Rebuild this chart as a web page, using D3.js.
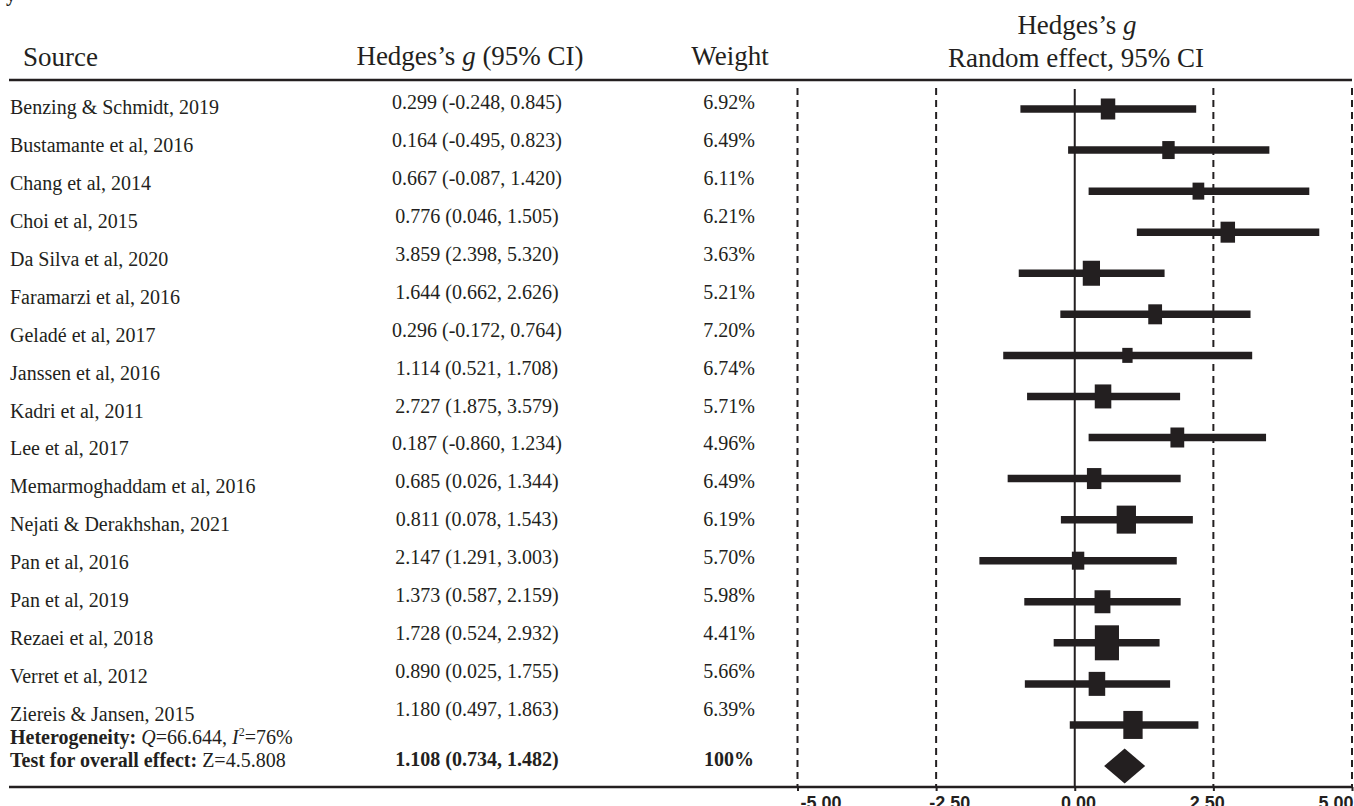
<!DOCTYPE html>
<html>
<head>
<meta charset="utf-8">
<script src="https://cdn.jsdelivr.net/npm/d3@7"></script>
<style>
  body { margin: 0; background: #fff; }
  svg { display: block; }
</style>
</head>
<body>
<svg id="chart"></svg>
<script>
const width = 1354, height = 806;
const ink = "#231f20";

// table columns
const sources = ["Benzing & Schmidt, 2019", "Bustamante et al, 2016", "Chang et al, 2014", "Choi et al, 2015",
  "Da Silva et al, 2020", "Faramarzi et al, 2016", "Geladé et al, 2017", "Janssen et al, 2016", "Kadri et al, 2011",
  "Lee et al, 2017", "Memarmoghaddam et al, 2016", "Nejati & Derakhshan, 2021", "Pan et al, 2016", "Pan et al, 2019",
  "Rezaei et al, 2018", "Verret et al, 2012", "Ziereis & Jansen, 2015"];
const hedgesG = [0.299, 0.164, 0.667, 0.776, 3.859, 1.644, 0.296, 1.114, 2.727, 0.187, 0.685, 0.811, 2.147, 1.373, 1.728, 0.890, 1.180];
const ciLower = [-0.248, -0.495, -0.087, 0.046, 2.398, 0.662, -0.172, 0.521, 1.875, -0.860, 0.026, 0.078, 1.291, 0.587, 0.524, 0.025, 0.497];
const ciUpper = [0.845, 0.823, 1.420, 1.505, 5.320, 2.626, 0.764, 1.708, 3.579, 1.234, 1.344, 1.543, 3.003, 2.159, 2.932, 1.755, 1.863];
const weights = [6.92, 6.49, 6.11, 6.21, 3.63, 5.21, 7.20, 6.74, 5.71, 4.96, 6.49, 6.19, 5.70, 5.98, 4.41, 5.66, 6.39];
const pooled = [1.108, 0.734, 1.482];

// markers as drawn in the figure (16 rows, then the pooled diamond)
const markMid = [0.60, 1.69, 2.23, 2.76, 0.30, 1.45, 0.95, 0.51, 1.85, 0.35, 0.93, 0.06, 0.50, 0.58, 0.40, 1.05];
const markLo = [-0.98, -0.12, 0.25, 1.12, -1.01, -0.26, -1.29, -0.86, 0.25, -1.21, -0.25, -1.72, -0.91, -0.38, -0.90, -0.09];
const markHi = [2.19, 3.51, 4.23, 4.41, 1.62, 3.17, 3.20, 1.90, 3.45, 1.91, 2.13, 1.84, 1.91, 1.53, 1.72, 2.23];
const markBox = [2.1, 1.8, 1.7, 2.1, 2.5, 2.0, 1.5, 2.4, 2.0, 2.1, 2.8, 1.8, 2.3, 3.5, 2.4, 2.8];
const diamond = [0.90, 0.53, 1.27];
const tickValues = [-5, -2.5, 0, 2.5, 5];

const fmt3 = v => d3.format(".3f")(v).replace("−", "-");
const fmtW = v => d3.format(".2f")(v) + "%";

const svg = d3.select("#chart").attr("width", width).attr("height", height)
  .style("font-family", "'Liberation Serif', 'Times New Roman', serif")
  .style("fill", ink);

const x = d3.scaleLinear().domain([-5, 5]).range([797.5, 1352]);
const xLabel = d3.scaleLinear().domain([-5, 5]).range([821, 1336]);
const yMark = d3.scaleLinear().domain([0, 16]).range([109, 766]);
const yText = d3.scaleLinear().domain([0, 16]).range([114, 721]);
const boxH = d3.scaleLinear().domain([0, 1]).range([0, 10]);

// clipped glyph at the corner
svg.append("text").attr("x", 6).attr("y", 1).style("font-weight", "bold").style("font-size", "20px").text("y");

// headers
const head = svg.append("g").style("font-size", "27px");
head.append("text").attr("x", 23).attr("y", 66).text("Source");
const h2 = head.append("text").attr("x", 470).attr("y", 65).attr("text-anchor", "middle");
h2.append("tspan").text("Hedges’s ");
h2.append("tspan").style("font-style", "italic").text("g");
h2.append("tspan").text(" (95% CI)");
head.append("text").attr("x", 730).attr("y", 65).attr("text-anchor", "middle").text("Weight");
const h3 = head.append("text").attr("x", 1077).attr("y", 34).attr("text-anchor", "middle");
h3.append("tspan").text("Hedges’s ");
h3.append("tspan").style("font-style", "italic").text("g");
head.append("text").attr("x", 1076).attr("y", 67).attr("text-anchor", "middle").text("Random effect, 95% CI");

// rules
svg.append("line").attr("x1", 9).attr("x2", 1352).attr("y1", 80).attr("y2", 80)
  .attr("stroke", ink).attr("stroke-width", 2.5);
svg.append("line").attr("x1", 9).attr("x2", 1352).attr("y1", 787).attr("y2", 787)
  .attr("stroke", ink).attr("stroke-width", 2.5);

// table rows
const rows = svg.append("g").style("font-size", "20px");
rows.selectAll(".src").data(sources).join("text")
  .attr("x", 10).attr("y", (d, i) => yText(i)).text(d => d);
rows.selectAll(".ci").data(hedgesG).join("text")
  .attr("x", 477).attr("y", (d, i) => yText(i) - 5).attr("text-anchor", "middle")
  .text((d, i) => `${fmt3(d)} (${fmt3(ciLower[i])}, ${fmt3(ciUpper[i])})`);
rows.selectAll(".wt").data(weights).join("text")
  .attr("x", 729).attr("y", (d, i) => yText(i) - 5).attr("text-anchor", "middle")
  .text(d => fmtW(d));

// summary rows
const het = rows.append("text").attr("x", 10).attr("y", 744);
het.append("tspan").style("font-weight", "bold").text("Heterogeneity: ");
het.append("tspan").style("font-style", "italic").text("Q");
het.append("tspan").text("=66.644, ");
het.append("tspan").style("font-style", "italic").text("I");
het.append("tspan").attr("dy", -8).style("font-size", "12px").text("2");
het.append("tspan").attr("dy", 8).text("=76%");
const tst = rows.append("text").attr("x", 10).attr("y", 767);
tst.append("tspan").style("font-weight", "bold").text("Test for overall effect: ");
tst.append("tspan").text("Z=4.5.808");
rows.append("text").attr("x", 477).attr("y", 766).attr("text-anchor", "middle").style("font-weight", "bold")
  .text(`${fmt3(pooled[0])} (${fmt3(pooled[1])}, ${fmt3(pooled[2])})`);
rows.append("text").attr("x", 729).attr("y", 766).attr("text-anchor", "middle").style("font-weight", "bold")
  .text("100%");

// reference lines
const plot = svg.append("g");
plot.selectAll(".ref").data(tickValues.filter(d => d !== 0)).join("line")
  .attr("x1", d => x(d)).attr("x2", d => x(d)).attr("y1", 88).attr("y2", 787)
  .attr("stroke", ink).attr("stroke-width", 2).attr("stroke-dasharray", "7,5");
plot.append("line").attr("x1", x(0)).attr("x2", x(0)).attr("y1", 89).attr("y2", 787)
  .attr("stroke", ink).attr("stroke-width", 2);

// CI bars and boxes
plot.selectAll(".bar").data(markMid).join("line")
  .attr("x1", (d, i) => x(markLo[i])).attr("x2", (d, i) => x(markHi[i]))
  .attr("y1", (d, i) => yMark(i)).attr("y2", (d, i) => yMark(i))
  .attr("stroke", ink).attr("stroke-width", 7.5);
plot.selectAll(".box").data(markMid).join("rect")
  .attr("x", (d, i) => x(d) - boxH(markBox[i]) / 2.9)
  .attr("y", (d, i) => yMark(i) - boxH(markBox[i]) / 2)
  .attr("width", (d, i) => boxH(markBox[i]) / 1.45)
  .attr("height", (d, i) => boxH(markBox[i]))
  .attr("fill", ink);

// pooled diamond
const yd = yMark(16);
plot.append("path")
  .attr("d", d3.line()([[x(diamond[1]), yd], [x(diamond[0]), yd - 17.5], [x(diamond[2]), yd], [x(diamond[0]), yd + 17.5]]) + "Z")
  .attr("fill", ink);

// axis ticks and labels
const axis = svg.append("g").attr("transform", "translate(0,787)")
  .call(d3.axisBottom(x).tickValues(tickValues).tickSize(4).tickFormat(""));
axis.select(".domain").remove();
axis.selectAll(".tick line").attr("stroke", ink).attr("stroke-width", 2);
svg.append("g").selectAll("text").data(tickValues).join("text")
  .attr("x", d => xLabel(d)).attr("y", 809).attr("text-anchor", "middle")
  .style("font-family", "'Liberation Sans', Arial, sans-serif").style("font-weight", "bold").style("font-size", "18px")
  .text(d => d3.format(".2f")(d).replace("−", "-"));
</script>
</body>
</html>
